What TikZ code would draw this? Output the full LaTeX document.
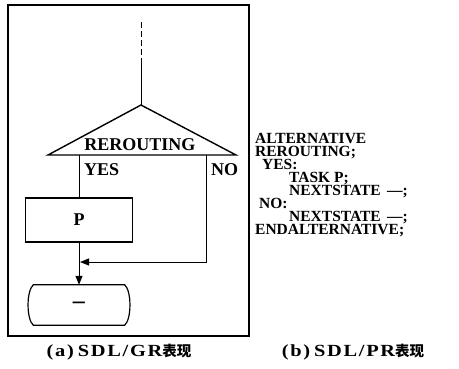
\documentclass[tikz,border=0pt]{standalone}
\usepackage{fontspec}
\setmainfont{Liberation Serif}
\newfontfamily\cjk{Noto Sans CJK SC}
\newfontfamily\capfont[FakeStretch=1.2,LetterSpace=10]{Liberation Serif}
\usetikzlibrary{arrows.meta}
\tikzset{
  conn/.style={line width=1pt},
  arr/.style={conn,-{Triangle[length=9pt,width=7pt]}},
  taskbox/.style={draw,line width=1.2pt,minimum width=107pt,minimum height=44pt,inner sep=0pt,font=\fontsize{18}{20}\selectfont\bfseries},
  statebox/.style={minimum width=103pt,minimum height=40pt,inner sep=0pt,font=\fontsize{24}{24}\selectfont\bfseries},
  lbl/.style={inner sep=0pt,font=\fontsize{18}{20}\selectfont\bfseries},
  prtext/.style={inner sep=0pt,anchor=north west,align=left,font=\fontsize{15.5}{13}\selectfont\bfseries},
  captext/.style={inner sep=0pt,font=\capfont\fontsize{17}{18}\selectfont\bfseries}
}
\begin{document}
\begin{tikzpicture}[x=1pt,y=-1pt]
\useasboundingbox (0,0) rectangle (459,368);
% frame
\node[draw,line width=1.2pt,minimum width=241pt,minimum height=331pt,inner sep=0pt] (frame) at (128.5,170.5) {};
% decision
\coordinate (top) at (141,22);
\coordinate (mid) at (141,58);
\coordinate (apex) at (141,105);
\coordinate (bl) at (48,155);
\coordinate (br) at (236,155);
\draw[conn,dashed,dash pattern=on 6pt off 3pt] (top) -- (mid);
\draw[conn] (mid) -- (apex);
\draw[line width=1.4pt,line join=miter,line cap=round] (bl) -- (apex) -- (br) -- cycle;
\node[lbl] (rer) at (140,145) {REROUTING};
\coordinate (yesout) at (79,155);
\coordinate (noout) at (206,155);
\node[lbl,anchor=west] (yes) at (84,170) {YES};
\node[lbl,anchor=west] (no) at (211,170) {NO};
% task
\node[taskbox] (P) at (79,220) {P};
% state
\node[statebox] (S) at (79,305) {–};
\draw[line width=1.2pt] ([xshift=6pt]S.north west) -- ([xshift=-6pt]S.north east)
  .. controls ([xshift=1pt,yshift=-6pt]S.north east) and ([xshift=1pt,yshift=6pt]S.south east) .. ([xshift=-6pt]S.south east)
  -- ([xshift=6pt]S.south west)
  .. controls ([xshift=-1pt,yshift=6pt]S.south west) and ([xshift=-1pt,yshift=-6pt]S.north west) .. ([xshift=6pt]S.north west) -- cycle;
% connectors
\coordinate (merge) at (80,262);
\draw[conn] (yesout) -- (P.north);
\draw[arr] (P.south) -- (S.north);
\draw[arr] (noout) |- (merge);
% PR text
\node[prtext] (pr) at (255,133) {ALTERNATIVE\\REROUTING;\\\hspace*{7pt}YES:\\\hspace*{34pt}TASK P;\\\hspace*{34pt}NEXTSTATE \,—;\\\hspace*{4pt}NO:\\\hspace*{34pt}NEXTSTATE \,—;\\ENDALTERNATIVE;};
% captions
\node[captext] (capa) at (119,352) {(a)\hspace{4pt}SDL/GR{\cjk\fontsize{14.5}{16}\selectfont 表现}};
\node[captext] (capb) at (353,352) {(b)\hspace{4pt}SDL/PR{\cjk\fontsize{14.5}{16}\selectfont 表现}};
\end{tikzpicture}
\end{document}
